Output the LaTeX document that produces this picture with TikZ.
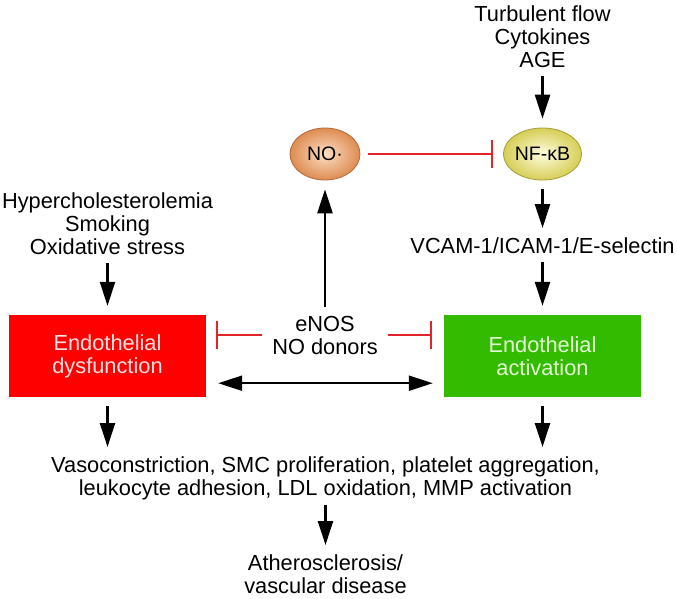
\documentclass[tikz,border=0pt]{standalone}
\usepackage{fontspec}
\setmainfont{Liberation Sans}
\usetikzlibrary{arrows.meta,positioning,shapes.geometric}
\definecolor{dysfred}{RGB}{255,0,0}
\definecolor{activgreen}{RGB}{51,187,0}
\definecolor{inhibred}{RGB}{226,35,40}
\definecolor{nofill}{RGB}{252,222,196}
\definecolor{noedge}{RGB}{222,140,82}
\definecolor{noline}{RGB}{180,105,60}
\definecolor{nfkbfill}{RGB}{255,253,224}
\definecolor{nfkbedge}{RGB}{214,206,86}
\definecolor{nfkbline}{RGB}{165,158,55}
\definecolor{redboxtext}{RGB}{255,226,226}
\definecolor{greenboxtext}{RGB}{228,250,212}
\newcommand{\pwfont}{\fontsize{21.8}{23}\selectfont}
\newcommand{\pwsmall}{\fontsize{19.5}{22}\selectfont}
\tikzset{
  pathway/.style={font=\pwfont, x=1pt, y=-1pt},
  % plain text: causes, mediators, outcomes
  txt/.style={align=center, inner sep=0pt},
  % a shaded molecule
  mol/.style={ellipse, inner sep=0pt, font=\pwsmall, line width=0.8pt,
              shading=radial, minimum height=52pt},
  % one of the two states of the endothelium
  statebox/.style={rectangle, minimum width=197pt, minimum height=82pt,
                   align=center, inner sep=0pt},
  % leads to
  act/.style={draw=black, line width=2.6pt,
              -{Triangle[length=24pt,width=15pt]},
              shorten <=9pt, shorten >=9pt},
  % ditto, both ways
  dact/.style={draw=black, line width=2.2pt,
               {Triangle[length=24pt,width=15pt]}-{Triangle[length=24pt,width=15pt]}},
  % blocks
  inh/.style={draw=inhibred, line width=2pt, -{Bar[width=28pt]}},
}

\begin{document}
\begin{tikzpicture}[pathway]
  % ---------------------------------------------------------------
  %        risk            NO. --| NF-kB <- stim
  %         |               ^       |
  %         v               |      vcam
  %       dysf  |-- enos --|     activ
  %         |   <-------------->    |
  %         +----> effects <--------+
  %                   |
  %                 athero
  % ---------------------------------------------------------------
  \useasboundingbox (0,0) rectangle (677,598);

  \node[txt, anchor=north] (stim) at (542.5,5) {Turbulent flow\\Cytokines\\AGE};
  \node[mol, draw=nfkbline, inner color=nfkbfill, outer color=nfkbedge,
        minimum width=67pt] (nfkb) at (542.5,154) {NF-κB};
  \node[mol, draw=noline, inner color=nofill, outer color=noedge,
        minimum width=70pt] (no) at (325,154) {NO·};
  \node[txt, anchor=base] (vcam) at (542.5,253) {VCAM-1/ICAM-1/E-selectin};
  \node[txt, anchor=north] (risk) at (107.5,192)
    {Hypercholesterolemia\\Smoking\\Oxidative stress};
  \node[statebox, fill=dysfred, text=redboxtext] (dysf) at (107.5,356)
    {Endothelial\\dysfunction};
  \node[statebox, fill=activgreen, text=greenboxtext] (activ) at (542.5,356)
    {Endothelial\\activation};
  \node[txt, anchor=north] (enos) at (325,316) {eNOS\\NO donors};
  \node[txt, anchor=north] (effects) at (325.5,456)
    {Vasoconstriction, SMC proliferation, platelet aggregation,\\
     leukocyte adhesion, LDL oxidation, MMP activation};
  \node[txt, anchor=north] (athero) at (325.5,554)
    {Atherosclerosis/\\vascular disease};

  \draw[act] (stim) -- (nfkb);
  \draw[act] (nfkb) -- (vcam);
  \draw[act] (vcam) -- (activ);
  \draw[act] (risk) -- (dysf);
  \draw[act] (enos) -- (no);
  \draw[act] (dysf) -- (dysf |- effects.north);
  \draw[act] (activ) -- (activ |- effects.north);
  \draw[act, shorten <=5pt] (effects) -- (athero);
  \draw[dact, shorten <=12pt, shorten >=11pt]
    ([yshift=14pt]dysf.south east) -- ([yshift=14pt]activ.south west);

  \draw[inh, shorten <=8pt, shorten >=10pt] (no) -- (nfkb);
  \draw[inh, shorten <=10pt, shorten >=10pt] (enos.west) -- (enos.west -| dysf.east);
  \draw[inh, shorten <=10pt, shorten >=12pt] (enos.east) -- (enos.east -| activ.west);
\end{tikzpicture}
\end{document}
